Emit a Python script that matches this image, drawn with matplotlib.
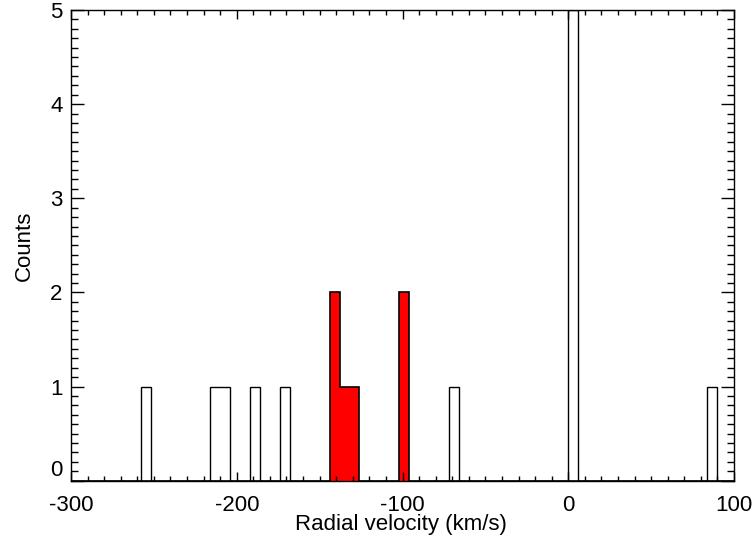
import numpy as np
import matplotlib
matplotlib.use("Agg")
import matplotlib.pyplot as plt
from matplotlib.ticker import MultipleLocator

# Histogram of radial velocities, 6 km/s bins (bin left edges and counts)
all_bin_left = [-258, -216, -210, -192, -174, -72, 0, 84]
all_counts = [1, 1, 1, 1, 1, 1, 5, 1]

sel_bin_left = [-144, -138, -132, -102]
sel_counts = [2, 1, 1, 2]

bin_width = 6
x_range = (-300, 100)
y_range = (0, 5)


def binned(lefts, counts):
    edges = np.arange(x_range[0], x_range[1] + bin_width, bin_width)
    values = np.zeros(len(edges) - 1)
    for left, c in zip(lefts, counts):
        values[int(round((left - x_range[0]) / bin_width))] = c
    return edges, values


plt.rcParams["font.family"] = ["Liberation Sans", "DejaVu Sans"]
plt.rcParams["axes.unicode_minus"] = False

fig = plt.figure(figsize=(7.56, 5.43), dpi=100)
ax = fig.add_axes([71 / 756, 1 - 480.7 / 543, 663 / 756, 470.7 / 543])

edges, vals = binned(all_bin_left, all_counts)
ax.stairs(vals, edges, baseline=0, color="black", linewidth=1.0)

edges, vals = binned(sel_bin_left, sel_counts)
ax.stairs(vals, edges, baseline=0, fill=True, facecolor="#ff0000",
          edgecolor="none")
ax.stairs(vals, edges, baseline=0, color="black", linewidth=1.2)

ax.set_xlim(*x_range)
ax.set_ylim(*y_range)

ax.xaxis.set_major_locator(MultipleLocator(100))
ax.xaxis.set_minor_locator(MultipleLocator(10))
ax.yaxis.set_major_locator(MultipleLocator(1))
ax.yaxis.set_minor_locator(MultipleLocator(0.1))

ax.tick_params(axis="both", which="both", direction="in",
               top=True, right=True, width=1.0, colors="black",
               labelsize=16)
ax.tick_params(axis="x", which="major", length=6.8, pad=10)
ax.tick_params(axis="x", which="minor", length=3.3)
ax.tick_params(axis="y", which="major", length=9.3, pad=6)
ax.tick_params(axis="y", which="minor", length=4.8)

for spine in ax.spines.values():
    spine.set_linewidth(1.0)

ax.set_xlabel("Radial velocity (km/s)", fontsize=16)
ax.set_ylabel("Counts", fontsize=16)
ax.xaxis.set_label_coords(0.497, -0.094)
ax.xaxis.label.set_va("center")
ax.yaxis.set_label_coords(-0.071, 0.5)
ax.yaxis.label.set_va("center")

# lift the "0" label so it sits above the bottom axis
fig.canvas.draw()
for tick in ax.yaxis.get_major_ticks():
    if abs(tick.get_loc()) < 1e-9:
        tick.label1.set_verticalalignment("bottom")

fig.savefig("out.png", dpi=100)
